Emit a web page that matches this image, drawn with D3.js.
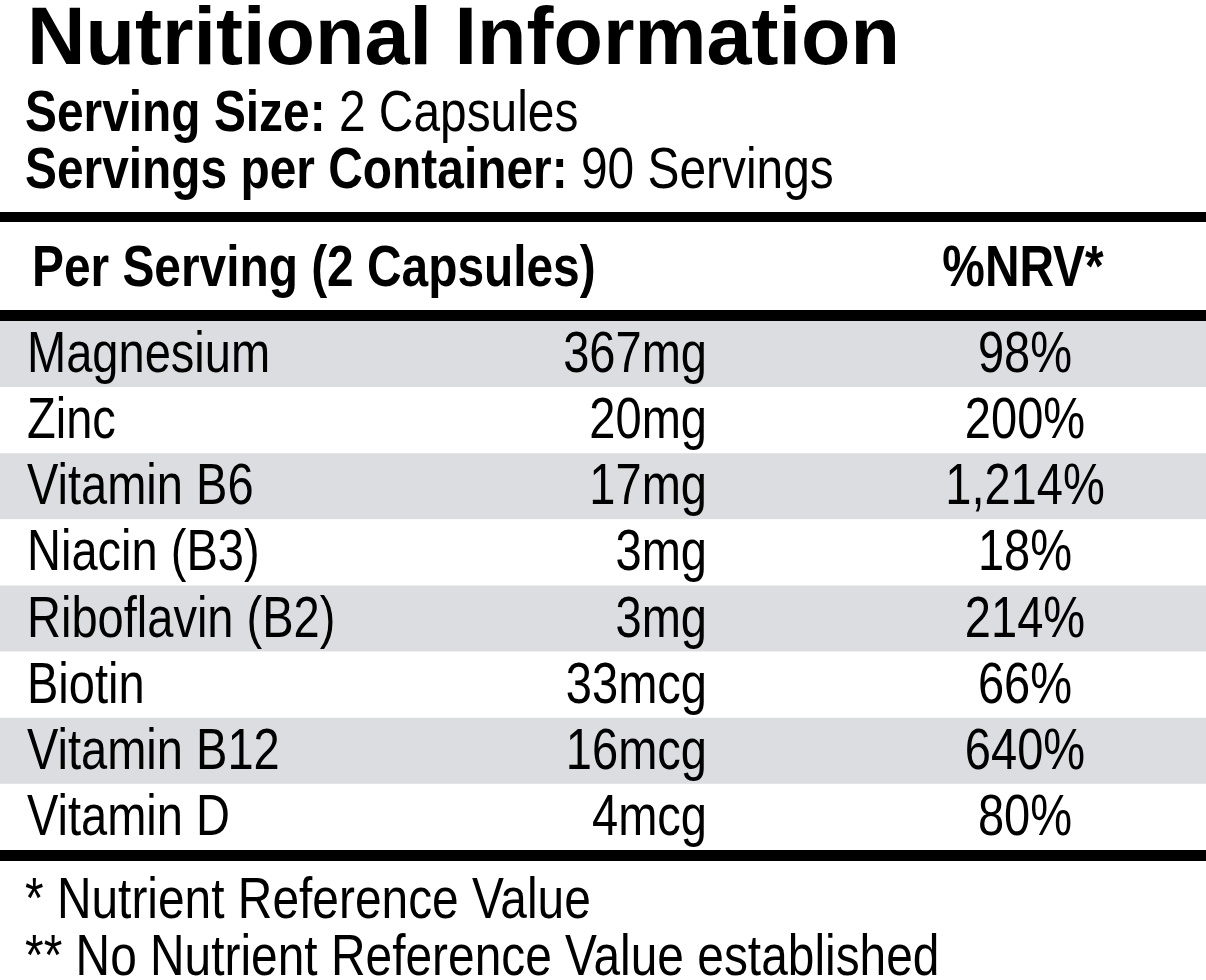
<!DOCTYPE html>
<html>
<head>
<meta charset="utf-8">
<script src="https://d3js.org/d3.v7.min.js"></script>
<style>
  html, body { margin: 0; padding: 0; background: #fff; }
  svg { display: block; }
  text { font-family: "Liberation Sans", Arial, sans-serif; fill: #000; }
</style>
</head>
<body>
<div id="chart"></div>
<script>
// 数据
const nutrients = ["Magnesium", "Zinc", "Vitamin B6", "Niacin (B3)", "Riboflavin (B2)", "Biotin", "Vitamin B12", "Vitamin D"];
const amounts = ["367mg", "20mg", "17mg", "3mg", "3mg", "33mcg", "16mcg", "4mcg"];
const nrvValues = ["98%", "200%", "1,214%", "18%", "214%", "66%", "640%", "80%"];
const headerLabels = ["Per Serving (2 Capsules)", "%NRV*"];
const servingInfo = [["Serving Size:", " 2 Capsules"], ["Servings per Container:", " 90 Servings"]];
const footnotes = ["* Nutrient Reference Value", "** No Nutrient Reference Value established"];

const width = 1206, height = 980;
// 没有窄体字体，用水平缩放模拟 condensed
const narrow = (x, y, s = 0.825) => `translate(${x},${y}) scale(${s},1)`;

const svg = d3.select("#chart").append("svg")
    .attr("width", width)
    .attr("height", height);

// 标题
svg.append("text")
    .attr("x", 27)
    .attr("y", 64)
    .attr("font-weight", "bold")
    .attr("font-size", 81)
    .text("Nutritional Information");

// 份量信息
const info = svg.selectAll(".info")
    .data(servingInfo)
    .enter()
    .append("text")
    .attr("class", "info")
    .attr("transform", (d, i) => narrow(25, 131 + i * 57, 0.84))
    .attr("font-size", 57);
info.append("tspan").attr("font-weight", "bold").text(d => d[0]);
info.append("tspan").text(d => d[1]);

// 粗分隔线
const rules = [{y: 212, h: 10}, {y: 310, h: 11}, {y: 850, h: 11}];
svg.selectAll(".rule")
    .data(rules)
    .enter()
    .append("rect")
    .attr("class", "rule")
    .attr("x", 0)
    .attr("y", d => d.y)
    .attr("width", width)
    .attr("height", d => d.h)
    .attr("fill", "#000");

// 表头
const colLabel = 27, colAmount = 707, colNrv = 1025;
svg.append("text")
    .attr("transform", narrow(32, 286))
    .attr("font-size", 58)
    .attr("font-weight", "bold")
    .text(headerLabels[0]);
svg.append("text")
    .attr("transform", narrow(colNrv - 2, 286))
    .attr("font-size", 58)
    .attr("font-weight", "bold")
    .attr("text-anchor", "middle")
    .text(headerLabels[1]);

// 行比例尺
const y = d3.scaleBand()
    .domain(nutrients)
    .range([321, 850]);

const rows = svg.selectAll(".row")
    .data(nutrients)
    .enter()
    .append("g")
    .attr("class", "row")
    .attr("transform", d => `translate(0, ${y(d)})`);

rows.append("rect")
    .attr("x", 0)
    .attr("y", 0)
    .attr("width", width)
    .attr("height", y.bandwidth())
    .attr("fill", (d, i) => i % 2 === 0 ? "#dcdde0" : "#fff");

rows.append("text")
    .attr("transform", narrow(colLabel, 51))
    .attr("font-size", 57)
    .text(d => d);

rows.append("text")
    .attr("transform", narrow(colAmount, 51))
    .attr("font-size", 57)
    .attr("text-anchor", "end")
    .text((d, i) => amounts[i]);

rows.append("text")
    .attr("transform", narrow(colNrv, 51))
    .attr("font-size", 57)
    .attr("text-anchor", "middle")
    .text((d, i) => nrvValues[i]);

// 脚注
svg.selectAll(".foot")
    .data(footnotes)
    .enter()
    .append("text")
    .attr("class", "foot")
    .attr("transform", (d, i) => narrow(25, 918 + i * 57, 0.84))
    .attr("font-size", 57)
    .text(d => d);
</script>
</body>
</html>
